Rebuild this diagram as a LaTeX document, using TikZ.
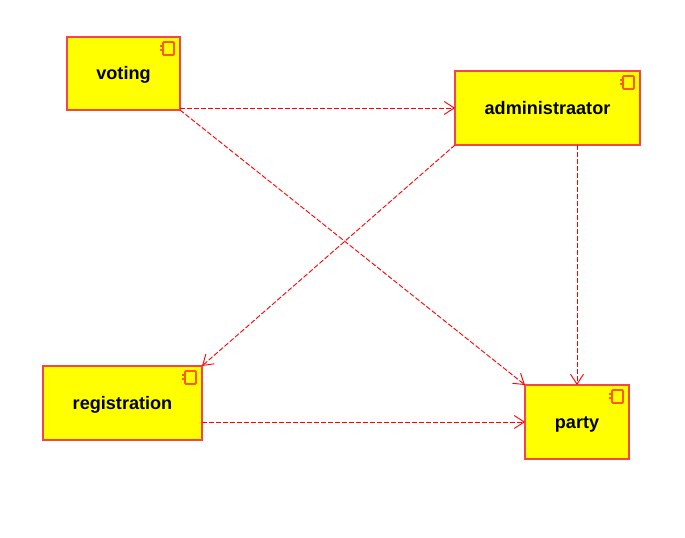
\documentclass[tikz,border=0pt]{standalone}
\usepackage{fontspec}
\setmainfont{Liberation Sans}
\usetikzlibrary{arrows.meta}
\definecolor{compfill}{RGB}{255,255,0}
\definecolor{compline}{RGB}{245,70,70}
\definecolor{iconline}{RGB}{255,90,0}
\tikzset{
  comp/.style={draw=compline,fill=compfill,line width=0.16mm,inner sep=0pt,outer sep=0pt,text height=0.13cm,text depth=0cm,font=\bfseries\fontsize{5.15}{6}\selectfont},
  dep/.style={draw=red,line width=0.09mm,dash pattern=on 0.05cm off 0.02cm,-{Straight Barb[length=0.1cm,width=0.13cm,line width=0.09mm]}}
}
\newcommand{\compicon}[1]{%
  \draw[iconline,line width=0.19mm,rounded corners=0.1mm] ([xshift=-0.17cm,yshift=-0.05cm]#1.north east) rectangle ([xshift=-0.06cm,yshift=-0.18cm]#1.north east);
  \fill[iconline] ([xshift=-0.2cm,yshift=-0.08cm]#1.north east) rectangle ([xshift=-0.17cm,yshift=-0.105cm]#1.north east);
  \fill[iconline] ([xshift=-0.2cm,yshift=-0.12cm]#1.north east) rectangle ([xshift=-0.17cm,yshift=-0.145cm]#1.north east);
}
\begin{document}
\begin{tikzpicture}
\useasboundingbox (0,0) rectangle (6.85,-5.38);
% components
\node[comp,minimum width=1.13cm,minimum height=0.73cm] (voting) at (1.235,-0.735) {voting};
\node[comp,minimum width=1.85cm,minimum height=0.74cm] (administraator) at (5.475,-1.08) {administraator};
\node[comp,minimum width=1.59cm,minimum height=0.74cm] (registration) at (1.225,-4.03) {registration};
\node[comp,minimum width=1.04cm,minimum height=0.74cm] (party) at (5.77,-4.22) {party};
\compicon{voting}
\compicon{administraator}
\compicon{registration}
\compicon{party}
% dependencies
\draw[dep] (voting.east |- administraator.west) -- (administraator.west);
\draw[dep] (voting.south east) -- (party.north west);
\draw[dep] (administraator.south west) -- (registration.north east);
\draw[dep] (party.north |- administraator.south) -- (party.north);
\draw[dep] (registration.east |- party.west) -- (party.west);
\end{tikzpicture}
\end{document}
